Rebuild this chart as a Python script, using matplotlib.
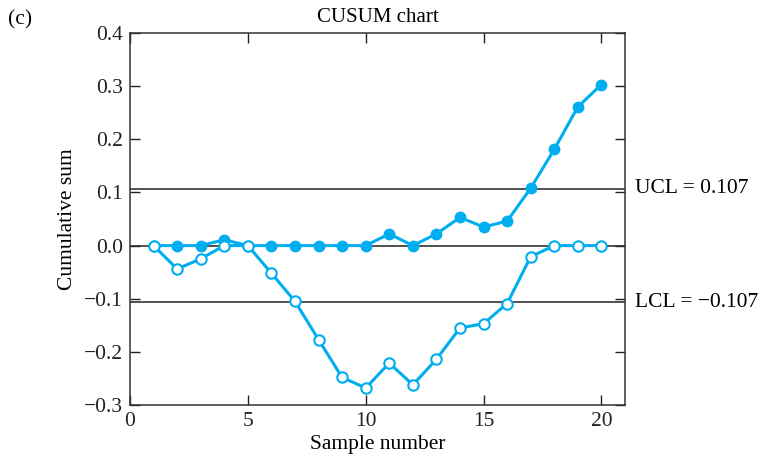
import numpy as np
import matplotlib
matplotlib.use("Agg")
import matplotlib.pyplot as plt

plt.rcParams["font.family"] = ["Liberation Serif", "DejaVu Serif"]

samples = list(range(1, 21))
c_plus = [0.0, 0.0, 0.0, 0.011, 0.0, 0.0, 0.0, 0.0, 0.0, 0.0,
          0.022, 0.0, 0.022, 0.053, 0.035, 0.046, 0.108, 0.181, 0.261, 0.303]
c_minus = [0.0, -0.044, -0.025, 0.0, 0.0, -0.052, -0.105, -0.177, -0.248, -0.268,
           -0.221, -0.262, -0.214, -0.155, -0.147, -0.109, -0.021, 0.0, 0.0, 0.0]
ucl = 0.107
lcl = -0.107

blue = "#00AEEF"
fs = 15.5

fig = plt.figure(figsize=(7.71, 4.65), dpi=100)
ax = fig.add_axes([0.1686, 0.129, 0.642, 0.80])

ax.axhline(ucl, color="#222222", lw=1.1, zorder=1)
ax.axhline(0, color="#222222", lw=1.1, zorder=1)
ax.axhline(lcl, color="#222222", lw=1.1, zorder=1)

ax.plot(samples, c_plus, color=blue, lw=2.2, marker="o", ms=7.5,
        mfc=blue, mec=blue, zorder=3)
ax.plot(samples, c_minus, color=blue, lw=2.2, marker="o", ms=7.5,
        mfc="white", mec=blue, mew=1.5, zorder=4)

ax.set_xlim(0, 21)
ax.set_ylim(-0.3, 0.4)
ax.set_xticks([0, 5, 10, 15, 20])
ax.set_yticks(np.arange(-0.3, 0.41, 0.1))
ax.set_yticklabels(["\u22120.3", "\u22120.2", "\u22120.1", "0.0", "0.1", "0.2", "0.3", "0.4"])
ax.tick_params(direction="in", length=7, width=1, top=True, right=True,
               labelsize=fs, colors="#222222", pad=5)
for s in ax.spines.values():
    s.set_color("#333333")
    s.set_linewidth(1.1)

ax.set_xlabel("Sample number", fontsize=fs, labelpad=3)
ax.set_ylabel("Cumulative sum", fontsize=fs, labelpad=5)
ax.set_title("CUSUM chart", fontsize=fs - 0.5, pad=8)

ax.text(1.02, ucl, "UCL = 0.107", transform=ax.get_yaxis_transform(),
        fontsize=fs, va="center", ha="left")
ax.text(1.02, lcl, "LCL = \u22120.107", transform=ax.get_yaxis_transform(),
        fontsize=fs, va="center", ha="left")
fig.text(0.01, 0.958, "(c)", fontsize=fs, va="center", ha="left")

fig.savefig("out.png", dpi=100)
